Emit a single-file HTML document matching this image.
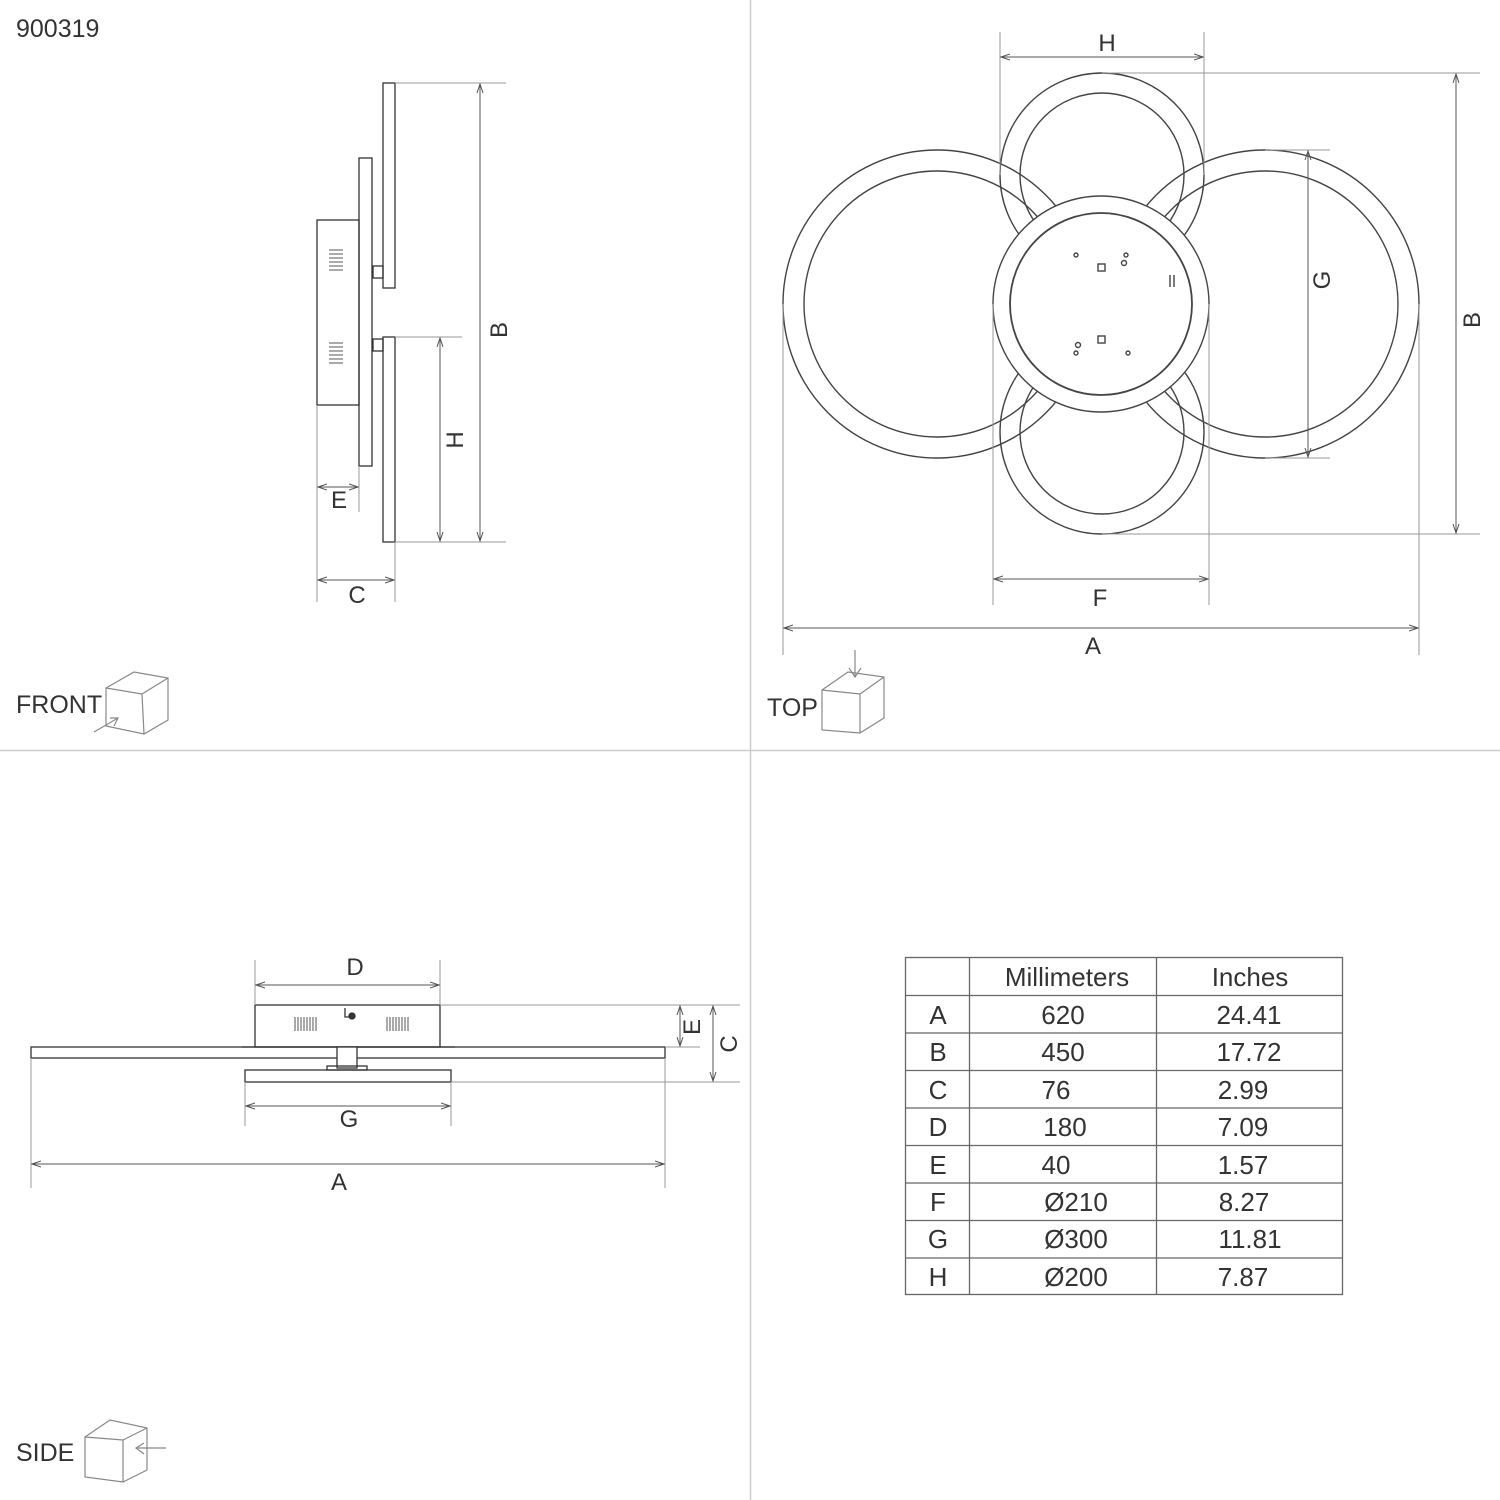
<!DOCTYPE html>
<html><head><meta charset="utf-8"><style>
html,body{margin:0;padding:0;background:#fff}
svg{display:block}
text{font-family:"Liberation Sans",sans-serif;fill:#333}
</style></head><body>
<svg width="1500" height="1500" viewBox="0 0 1500 1500" xmlns="http://www.w3.org/2000/svg">
<defs>
<marker id="ar" markerWidth="10" markerHeight="8" refX="9" refY="4" orient="auto-start-reverse" markerUnits="userSpaceOnUse"><path d="M0,1 L9,4 L0,7" fill="none" stroke="#555" stroke-width="1"/></marker>
</defs>
<!-- dividers -->
<line x1="750.5" y1="0" x2="750.5" y2="1500" stroke="#ccc" stroke-width="1.5"/>
<line x1="0" y1="750.5" x2="1500" y2="750.5" stroke="#ccc" stroke-width="1.5"/>
<text x="16" y="37" font-size="25">900319</text>

<!-- FRONT view -->
<g stroke="#333" stroke-width="1.3" fill="none">
<rect x="383" y="83" width="12" height="205"/>
<rect x="383" y="337" width="12" height="205"/>
<rect x="359" y="158" width="13" height="308"/>
<rect x="317" y="220" width="42" height="185"/>
<rect x="373" y="266" width="10" height="12"/>
<rect x="373" y="339" width="10" height="12"/>
</g>
<g stroke="#555" stroke-width="1" fill="none">
<path d="M329,250h14M329,254h14M329,258h14M329,262h14M329,266h14M329,270h14"/>
<path d="M329,343h14M329,347h14M329,351h14M329,355h14M329,359h14M329,363h14"/>
</g>
<g stroke="#999" stroke-width="1" fill="none">
<line x1="395" y1="83" x2="506" y2="83"/><line x1="395" y1="542" x2="506" y2="542"/>
<line x1="395" y1="337" x2="462" y2="337"/>
<line x1="317" y1="405" x2="317" y2="602"/><line x1="395" y1="542" x2="395" y2="602"/>
<line x1="359" y1="466" x2="359" y2="512"/>
</g>
<g stroke="#555" stroke-width="1">
<line x1="480" y1="84" x2="480" y2="541" marker-start="url(#ar)" marker-end="url(#ar)"/>
<line x1="440" y1="338" x2="440" y2="541" marker-start="url(#ar)" marker-end="url(#ar)"/>
<line x1="318" y1="580" x2="394" y2="580" marker-start="url(#ar)" marker-end="url(#ar)"/>
<line x1="318" y1="487" x2="358" y2="487" marker-start="url(#ar)" marker-end="url(#ar)"/>
</g>
<text x="357" y="603" font-size="24" text-anchor="middle">C</text>
<text x="339" y="508" font-size="24" text-anchor="middle">E</text>
<text transform="translate(507,330) rotate(-90)" font-size="24" text-anchor="middle">B</text>
<text transform="translate(463,440) rotate(-90)" font-size="24" text-anchor="middle">H</text>
<text x="16" y="713" font-size="25">FRONT</text>
<g stroke="#888" stroke-width="1.2" fill="none">
<path d="M106,688 L134,672 L168,678 L168,720 L144,734 L106,726 Z M106,688 L142,694 L168,678 M142,694 L144,734"/>
<path d="M94,732 L118,718 M110,718 L118,718 L114,726"/>
</g>

<!-- TOP view -->
<g stroke="#444" stroke-width="1.4" fill="none">
<circle cx="937" cy="304" r="154"/><circle cx="937" cy="304" r="133"/>
<circle cx="1265" cy="304" r="154"/><circle cx="1265" cy="304" r="133"/>
<circle cx="1102" cy="175" r="102"/><circle cx="1102" cy="175" r="82"/>
<circle cx="1102" cy="432" r="102"/><circle cx="1102" cy="432" r="82"/>
<circle cx="1101" cy="304" r="108" fill="#fff"/><circle cx="1101" cy="304" r="91" stroke-width="1.8"/>
<rect x="1098" y="264" width="7" height="7"/><rect x="1098" y="336" width="7" height="7"/>
<circle cx="1076" cy="255" r="2"/><circle cx="1126" cy="255" r="2"/><circle cx="1124" cy="263" r="2.5"/>
<circle cx="1076" cy="353" r="2"/><circle cx="1128" cy="353" r="2"/><circle cx="1078" cy="345" r="2.5"/>
<path d="M1170,275v12M1174,275v12"/>
</g>
<g stroke="#999" stroke-width="1" fill="none">
<line x1="1000" y1="32" x2="1000" y2="175"/><line x1="1204" y1="32" x2="1204" y2="175"/>
<line x1="1102" y1="73" x2="1480" y2="73"/><line x1="1102" y1="534" x2="1480" y2="534"/>
<line x1="1265" y1="150" x2="1330" y2="150"/><line x1="1265" y1="458" x2="1330" y2="458"/>
<line x1="993" y1="304" x2="993" y2="605"/><line x1="1209" y1="304" x2="1209" y2="605"/>
<line x1="783" y1="304" x2="783" y2="655"/><line x1="1419" y1="304" x2="1419" y2="655"/>
</g>
<g stroke="#555" stroke-width="1">
<line x1="1001" y1="57" x2="1203" y2="57" marker-start="url(#ar)" marker-end="url(#ar)"/>
<line x1="1456" y1="74" x2="1456" y2="533" marker-start="url(#ar)" marker-end="url(#ar)"/>
<line x1="1308" y1="151" x2="1308" y2="457" marker-start="url(#ar)" marker-end="url(#ar)"/>
<line x1="994" y1="579" x2="1208" y2="579" marker-start="url(#ar)" marker-end="url(#ar)"/>
<line x1="784" y1="628" x2="1418" y2="628" marker-start="url(#ar)" marker-end="url(#ar)"/>
</g>
<text x="1107" y="51" font-size="24" text-anchor="middle">H</text>
<text x="1100" y="606" font-size="24" text-anchor="middle">F</text>
<text x="1093" y="654" font-size="24" text-anchor="middle">A</text>
<text transform="translate(1480,320) rotate(-90)" font-size="24" text-anchor="middle">B</text>
<text transform="translate(1330,280) rotate(-90)" font-size="24" text-anchor="middle">G</text>
<text x="767" y="716" font-size="25">TOP</text>
<g stroke="#888" stroke-width="1.2" fill="none">
<path d="M822,690 L848,672 L884,677 L884,718 L860,733 L822,730 Z M822,690 L860,694 L884,677 M860,694 L860,733"/>
<path d="M855,650 L855,676 M849,668 L855,677 L861,668"/>
</g>

<!-- SIDE view -->
<g stroke="#333" stroke-width="1.3" fill="none">
<rect x="31" y="1047" width="634" height="11"/>
<rect x="255" y="1005" width="185" height="42"/>
<line x1="242" y1="1047" x2="455" y2="1047"/>
<rect x="245" y="1070" width="206" height="12"/>
<rect x="337" y="1047" width="20" height="21" fill="#fff"/>
<rect x="327" y="1066" width="40" height="4"/>
<path d="M345,1008v9h5"/>
<circle cx="352" cy="1016" r="3" fill="#333"/>
</g>
<g stroke="#555" stroke-width="1" fill="none">
<path d="M295,1017v14M298,1017v14M301,1017v14M304,1017v14M307,1017v14M310,1017v14M313,1017v14M316,1017v14"/>
<path d="M387,1017v14M390,1017v14M393,1017v14M396,1017v14M399,1017v14M402,1017v14M405,1017v14M408,1017v14"/>
</g>
<g stroke="#999" stroke-width="1" fill="none">
<line x1="255" y1="960" x2="255" y2="1005"/><line x1="440" y1="960" x2="440" y2="1005"/>
<line x1="440" y1="1005" x2="740" y2="1005"/><line x1="665" y1="1047" x2="700" y2="1047"/>
<line x1="451" y1="1082" x2="740" y2="1082"/>
<line x1="245" y1="1082" x2="245" y2="1126"/><line x1="451" y1="1082" x2="451" y2="1126"/>
<line x1="31" y1="1058" x2="31" y2="1188"/><line x1="665" y1="1058" x2="665" y2="1188"/>
</g>
<g stroke="#555" stroke-width="1">
<line x1="256" y1="985" x2="439" y2="985" marker-start="url(#ar)" marker-end="url(#ar)"/>
<line x1="246" y1="1106" x2="450" y2="1106" marker-start="url(#ar)" marker-end="url(#ar)"/>
<line x1="32" y1="1164" x2="664" y2="1164" marker-start="url(#ar)" marker-end="url(#ar)"/>
<line x1="680" y1="1006" x2="680" y2="1046" marker-start="url(#ar)" marker-end="url(#ar)"/>
<line x1="713" y1="1006" x2="713" y2="1081" marker-start="url(#ar)" marker-end="url(#ar)"/>
</g>
<text x="355" y="975" font-size="24" text-anchor="middle">D</text>
<text x="349" y="1127" font-size="24" text-anchor="middle">G</text>
<text x="339" y="1190" font-size="24" text-anchor="middle">A</text>
<text transform="translate(700,1027) rotate(-90)" font-size="24" text-anchor="middle">E</text>
<text transform="translate(737,1044) rotate(-90)" font-size="24" text-anchor="middle">C</text>
<text x="16" y="1461" font-size="25">SIDE</text>
<g stroke="#888" stroke-width="1.2" fill="none">
<path d="M85,1437 L110,1420 L147,1428 L147,1470 L123,1482 L85,1477 Z M85,1437 L123,1440 L147,1428 M123,1440 L123,1482"/>
<path d="M166,1448 L137,1448 M144,1443 L136,1448 L144,1454"/>
</g>

<!-- TABLE -->
<g stroke="#666" stroke-width="1.3" fill="none">
<rect x="905.5" y="957.5" width="437" height="337"/>
<line x1="969.5" y1="957" x2="969.5" y2="1295"/>
<line x1="1156.5" y1="957" x2="1156.5" y2="1295"/>
<path d="M905,995.5h438M905,1033h438M905,1070.5h438M905,1108h438M905,1145.5h438M905,1183h438M905,1220.5h438M905,1258h438"/>
</g>
<g font-size="26" text-anchor="middle">
<text x="1067" y="986">Millimeters</text><text x="1250" y="986">Inches</text>
<text x="938" y="1024">A</text><text x="1063" y="1024">620</text><text x="1249" y="1024">24.41</text>
<text x="938" y="1061">B</text><text x="1063" y="1061">450</text><text x="1249" y="1061">17.72</text>
<text x="938" y="1099">C</text><text x="1056" y="1099">76</text><text x="1243" y="1099">2.99</text>
<text x="938" y="1136">D</text><text x="1065" y="1136">180</text><text x="1243" y="1136">7.09</text>
<text x="938" y="1174">E</text><text x="1056" y="1174">40</text><text x="1243" y="1174">1.57</text>
<text x="938" y="1211">F</text><text x="1076" y="1211">Ø210</text><text x="1244" y="1211">8.27</text>
<text x="938" y="1248">G</text><text x="1076" y="1248">Ø300</text><text x="1250" y="1248">11.81</text>
<text x="938" y="1286">H</text><text x="1076" y="1286">Ø200</text><text x="1243" y="1286">7.87</text>
</g>
</svg>
</body></html>
